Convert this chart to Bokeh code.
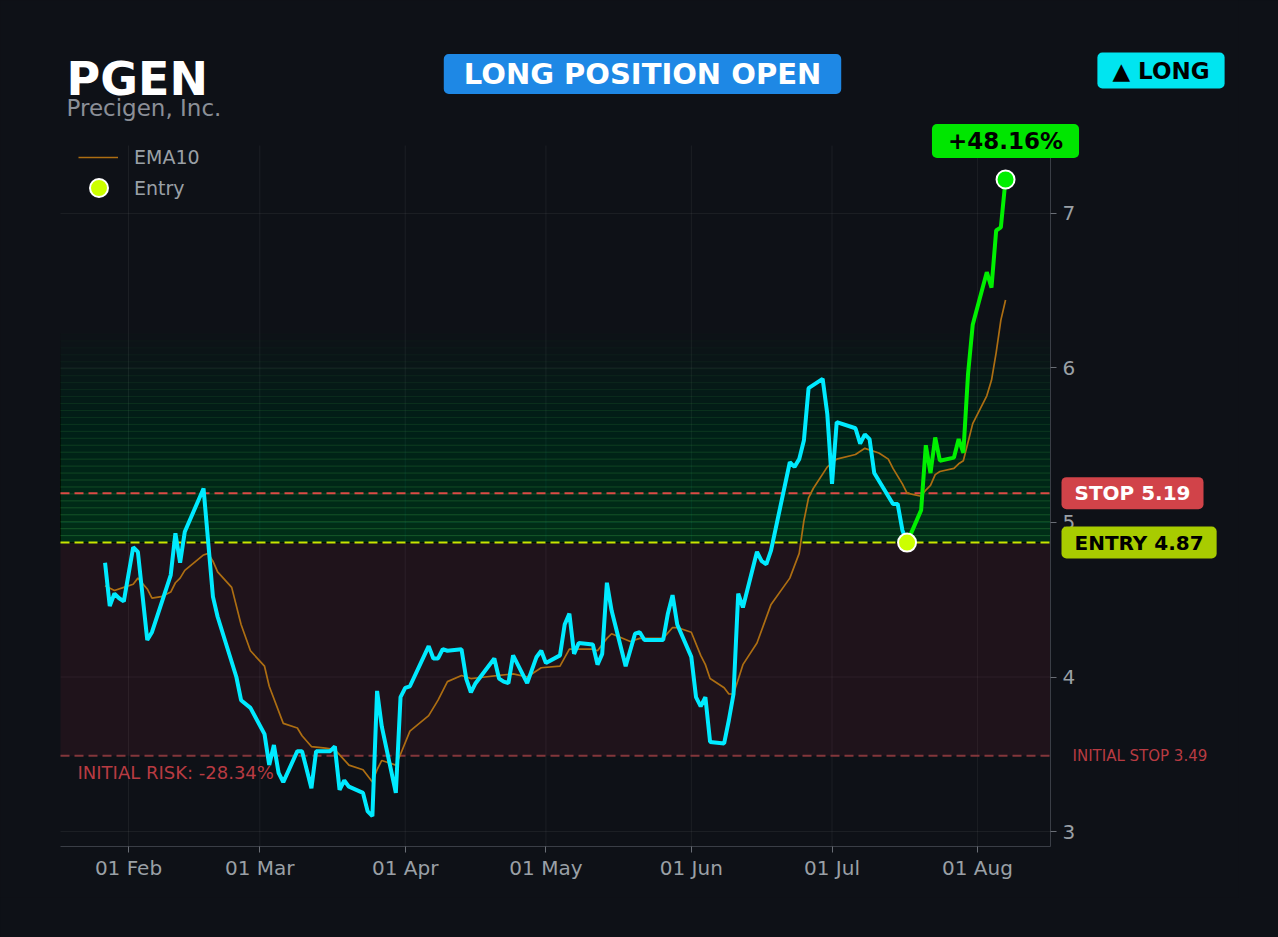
from datetime import datetime
import pandas as pd
from bokeh.plotting import figure
from bokeh.models import (Range1d, FixedTicker, DatetimeTickFormatter, Label,
                          Legend, LegendItem)
from bokeh.embed import file_html
from bokeh.resources import INLINE

# ---------------- data ----------------
symbol = "PGEN"
company = "Precigen, Inc."
status_text = "LONG POSITION OPEN"
side_text = "▲ LONG"
entry_price = 4.87
stop_price = 5.19
initial_stop = 3.49
gain_pct = 48.16
initial_risk_pct = -28.34
entry_date = "2025-07-17"

price_dates = [
    "2025-01-27", "2025-01-28", "2025-01-29", "2025-01-30", "2025-01-31",
    "2025-02-02", "2025-02-03", "2025-02-05", "2025-02-06", "2025-02-10",
    "2025-02-11", "2025-02-12", "2025-02-13", "2025-02-17", "2025-02-19",
    "2025-02-20", "2025-02-24", "2025-02-25", "2025-02-27", "2025-03-02",
    "2025-03-03", "2025-03-04", "2025-03-05", "2025-03-06", "2025-03-09",
    "2025-03-10", "2025-03-12", "2025-03-13", "2025-03-16", "2025-03-17",
    "2025-03-18", "2025-03-19", "2025-03-20", "2025-03-23", "2025-03-24",
    "2025-03-25", "2025-03-26", "2025-03-27", "2025-03-30", "2025-03-31",
    "2025-04-01", "2025-04-02", "2025-04-06", "2025-04-07", "2025-04-08",
    "2025-04-09", "2025-04-10", "2025-04-13", "2025-04-14", "2025-04-15",
    "2025-04-16", "2025-04-20", "2025-04-21", "2025-04-22", "2025-04-23",
    "2025-04-24", "2025-04-27", "2025-04-29", "2025-04-30", "2025-05-01",
    "2025-05-04", "2025-05-05", "2025-05-06", "2025-05-07", "2025-05-08",
    "2025-05-11", "2025-05-12", "2025-05-13", "2025-05-14", "2025-05-15",
    "2025-05-18", "2025-05-20", "2025-05-21", "2025-05-22", "2025-05-26",
    "2025-05-27", "2025-05-28", "2025-05-29", "2025-06-01", "2025-06-02",
    "2025-06-03", "2025-06-04", "2025-06-05", "2025-06-08", "2025-06-09",
    "2025-06-10", "2025-06-11", "2025-06-12", "2025-06-15", "2025-06-16",
    "2025-06-17", "2025-06-18", "2025-06-22", "2025-06-23", "2025-06-24",
    "2025-06-25", "2025-06-26", "2025-06-29", "2025-06-30", "2025-07-01",
    "2025-07-02", "2025-07-06", "2025-07-07", "2025-07-08", "2025-07-09",
    "2025-07-10", "2025-07-14", "2025-07-15", "2025-07-16", "2025-07-17",
    "2025-07-20", "2025-07-21", "2025-07-22", "2025-07-23", "2025-07-24",
    "2025-07-27", "2025-07-28", "2025-07-29", "2025-07-30", "2025-07-31",
    "2025-08-03", "2025-08-04", "2025-08-05", "2025-08-06", "2025-08-07",
]
price_values = [
    4.74, 4.46, 4.54, 4.51, 4.49,
    4.84, 4.81, 4.24, 4.29, 4.66,
    4.93, 4.74, 4.94, 5.22, 4.52,
    4.39, 4.00, 3.85, 3.80, 3.63,
    3.43, 3.56, 3.38, 3.32, 3.52,
    3.52, 3.28, 3.52, 3.52, 3.55,
    3.27, 3.33, 3.29, 3.25, 3.13,
    3.10, 3.91, 3.68, 3.25, 3.87,
    3.93, 3.94, 4.20, 4.12, 4.12,
    4.18, 4.17, 4.18, 3.99, 3.90,
    3.96, 4.12, 3.99, 3.97, 3.96,
    4.14, 3.96, 4.13, 4.17, 4.09,
    4.14, 4.34, 4.41, 4.15, 4.22,
    4.21, 4.08, 4.15, 4.61, 4.43,
    4.07, 4.28, 4.29, 4.24, 4.24,
    4.41, 4.53, 4.34, 4.13, 3.87,
    3.81, 3.87, 3.58, 3.57, 3.72,
    3.89, 4.54, 4.45, 4.81, 4.75,
    4.73, 4.82, 5.39, 5.36, 5.41,
    5.53, 5.87, 5.93, 5.70, 5.25,
    5.65, 5.61, 5.51, 5.57, 5.54,
    5.32, 5.12, 5.12, 4.95, 4.87,
    5.08, 5.50, 5.32, 5.55, 5.40,
    5.42, 5.54, 5.45, 5.96, 6.28,
    6.62, 6.52, 6.89, 6.91, 7.22,
]

ema_dates = [
    "2025-01-27", "2025-01-29", "2025-01-31", "2025-02-02", "2025-02-03",
    "2025-02-05", "2025-02-06", "2025-02-08", "2025-02-10", "2025-02-11",
    "2025-02-12", "2025-02-13", "2025-02-17", "2025-02-18", "2025-02-19",
    "2025-02-20", "2025-02-23", "2025-02-25", "2025-02-27", "2025-03-02",
    "2025-03-03", "2025-03-06", "2025-03-09", "2025-03-10", "2025-03-12",
    "2025-03-15", "2025-03-17", "2025-03-20", "2025-03-23", "2025-03-25",
    "2025-03-26", "2025-03-27", "2025-03-30", "2025-03-31", "2025-04-02",
    "2025-04-06", "2025-04-08", "2025-04-10", "2025-04-13", "2025-04-15",
    "2025-04-18", "2025-04-21", "2025-04-24", "2025-04-27", "2025-04-30",
    "2025-05-04", "2025-05-06", "2025-05-07", "2025-05-11", "2025-05-12",
    "2025-05-14", "2025-05-15", "2025-05-19", "2025-05-21", "2025-05-26",
    "2025-05-28", "2025-05-29", "2025-06-01", "2025-06-03", "2025-06-04",
    "2025-06-05", "2025-06-08", "2025-06-09", "2025-06-10", "2025-06-12",
    "2025-06-15", "2025-06-18", "2025-06-22", "2025-06-24", "2025-06-25",
    "2025-06-26", "2025-06-27", "2025-06-30", "2025-07-02", "2025-07-06",
    "2025-07-08", "2025-07-11", "2025-07-13", "2025-07-14", "2025-07-16",
    "2025-07-17", "2025-07-20", "2025-07-21", "2025-07-22", "2025-07-23",
    "2025-07-24", "2025-07-27", "2025-07-28", "2025-07-29", "2025-07-31",
    "2025-08-03", "2025-08-04", "2025-08-05", "2025-08-06", "2025-08-07",
]
ema_values = [
    4.59, 4.56, 4.58, 4.60, 4.64,
    4.57, 4.51, 4.52, 4.55, 4.61,
    4.64, 4.69, 4.79, 4.80, 4.75,
    4.68, 4.58, 4.34, 4.17, 4.07,
    3.94, 3.70, 3.67, 3.62, 3.55,
    3.54, 3.53, 3.43, 3.40, 3.32,
    3.40, 3.46, 3.43, 3.50, 3.65,
    3.75, 3.85, 3.97, 4.01, 3.99,
    4.00, 4.01, 4.02, 4.00, 4.06,
    4.07, 4.18, 4.18, 4.18, 4.17,
    4.25, 4.28, 4.23, 4.25, 4.25,
    4.32, 4.32, 4.29, 4.14, 4.08,
    3.99, 3.93, 3.89, 3.89, 4.08,
    4.22, 4.47, 4.64, 4.80, 5.01,
    5.16, 5.22, 5.36, 5.41, 5.44,
    5.48, 5.45, 5.41, 5.35, 5.25,
    5.19, 5.17, 5.21, 5.24, 5.31,
    5.33, 5.35, 5.38, 5.40, 5.64,
    5.82, 5.92, 6.10, 6.31, 6.44,
]

y_ticks = [3, 4, 5, 6, 7]
month_ticks = ["2025-02-01", "2025-03-01", "2025-04-01", "2025-05-01",
               "2025-06-01", "2025-07-01", "2025-08-01"]

# ---------------- layout / styles ----------------
BG = "#0e1117"
FONT = "DejaVu Sans"
AXIS_TXT = "#9aa0a6"

# visible data window
X0, X1 = datetime(2025, 1, 17, 12), datetime(2025, 8, 16, 14)
Y0, Y1 = 2.903, 7.44
# canvas geometry: the frame fills the canvas; the data window sits inside it
FW, FH = 1238, 897
DL, DR, DT, DB = 60, 1050, 145, 846

def ms(t):
    return pd.Timestamp(t).value / 1e6

span_x = X1 - X0
x_lo = X0 - span_x * (DL / (DR - DL))
x_hi = X1 + span_x * ((FW - DR) / (DR - DL))
upp = (Y1 - Y0) / (DB - DT)
y_lo = Y0 - (FH - DB) * upp
y_hi = Y1 + DT * upp

px = pd.to_datetime(price_dates)
ex = pd.to_datetime(ema_dates)
mt = pd.to_datetime(month_ticks)
entry_ts = pd.Timestamp(entry_date)
i_entry = list(px).index(entry_ts)

p = figure(
    frame_width=FW, frame_height=FH,
    min_border=0, min_border_left=0, min_border_top=0,
    min_border_right=1278 - FW, min_border_bottom=937 - FH,
    x_axis_type="datetime", y_axis_location="right",
    x_range=Range1d(x_lo, x_hi), y_range=Range1d(y_lo, y_hi),
    toolbar_location=None, output_backend="svg",
    background_fill_color=BG, border_fill_color=BG,
)
p.styles = {"background-color": BG}
p.outline_line_color = None
p.xgrid.visible = False
p.ygrid.visible = False

# axes pinned to the data window
p.xaxis.fixed_location = Y0
p.yaxis.fixed_location = ms(X1)
p.xaxis.bounds = (ms(X0), ms(X1))
p.yaxis.bounds = (Y0, Y1)
p.xaxis.ticker = FixedTicker(ticks=[ms(t) for t in month_ticks])
p.xaxis.formatter = DatetimeTickFormatter(days="%d %b", months="%d %b", years="%d %b",
                                          hours="%d %b", hourmin="%d %b")
p.yaxis.ticker = FixedTicker(ticks=y_ticks)
for ax in (p.xaxis[0], p.yaxis[0]):
    ax.axis_line_color = "#3a3e46"
    ax.major_tick_line_color = "#6a6e76"
    ax.minor_tick_line_color = None
    ax.major_tick_out = 6
    ax.major_tick_in = 0
    ax.major_label_text_color = AXIS_TXT
    ax.major_label_text_font = FONT
    ax.major_label_text_font_size = "20px"
    ax.major_label_standoff = 6
p.xaxis.major_label_standoff = 3

# grid inside the data window
p.segment(x0=mt, y0=[Y0] * len(mt), x1=mt, y1=[Y1] * len(mt),
          line_color="white", line_alpha=0.06, line_width=1)
p.segment(x0=[X0] * len(y_ticks), y0=y_ticks, x1=[X1] * len(y_ticks), y1=y_ticks,
          line_color="white", line_alpha=0.06, line_width=1)

# risk zone (initial stop -> entry)
p.quad(left=[X0], right=[X1], bottom=[initial_stop], top=[entry_price],
       fill_color="#d0304a", fill_alpha=0.09, line_color=None)
# profit gradient band above entry
n_band = 30
band_step = 0.045
tops = [entry_price + band_step * k for k in range(1, n_band + 1)]
p.quad(left=[X0] * n_band, right=[X1] * n_band, bottom=[entry_price] * n_band, top=tops,
       fill_color="#2ecc40", fill_alpha=0.006, line_color=None)
p.segment(x0=[X0] * n_band, y0=tops, x1=[X1] * n_band, y1=tops, line_color="#3fae4c",
          line_alpha=[0.32 * (1 - k / n_band) + 0.02 for k in range(n_band)], line_width=1)

# level lines
for lvl, col in ((initial_stop, "#83363b"), (stop_price, "#dc4b46"), (entry_price, "#c8e600")):
    p.segment(x0=[X0], y0=[lvl], x1=[X1], y1=[lvl], line_color=col,
              line_dash="9 5", line_width=2)

# series
ema_r = p.line(ex, ema_values, line_color="#ad6e12", line_width=1.7)
p.line(px[:i_entry + 1], price_values[:i_entry + 1], line_color="#00eaff", line_width=4)
p.line(px[i_entry:], price_values[i_entry:], line_color="#00f000", line_width=4)
entry_r = p.scatter([entry_ts], [entry_price], size=18, fill_color="#ccff00",
                    line_color="white", line_width=2)
p.scatter([px[-1]], [price_values[-1]], size=18, fill_color="#00ee00",
          line_color="white", line_width=2)

common_legend = dict(padding=0, margin=0, label_text_font=FONT, label_text_font_size="19px",
                     label_text_color=AXIS_TXT, background_fill_alpha=0, border_line_alpha=0)
p.add_layout(Legend(items=[LegendItem(label="EMA10", renderers=[ema_r])],
                    location=(78, FH - 168), glyph_width=40, glyph_height=20,
                    label_height=20, label_standoff=16, **common_legend))
p.add_layout(Legend(items=[LegendItem(label="Entry", renderers=[entry_r])],
                    location=(76, FH - 210), glyph_width=45, glyph_height=45,
                    label_height=20, label_standoff=13, **common_legend))

# ---------------- texts (screen px, origin = frame bottom-left) ----------------
def lab(**kw):
    base = dict(x_units="screen", y_units="screen", text_font=FONT)
    base.update(kw)
    p.add_layout(Label(**base))

lab(x=66, y=FH - 78, text=symbol, text_font_size="46px", text_font_style="bold",
    text_color="white", text_align="left", text_baseline="alphabetic")
lab(x=66, y=FH - 107, text=company, text_font_size="23px", text_color="#8b8f97",
    text_align="left", text_baseline="alphabetic")
lab(x=642, y=FH - 73.5, text=status_text, text_font_size="29px", text_font_style="bold",
    text_color="white", text_align="center", text_baseline="middle",
    background_fill_color="#1e88e5", padding=(20, 3), border_radius=5)
lab(x=1160.5, y=FH - 70, text=side_text, text_font_size="23px", text_font_style="bold",
    text_color="black", text_align="center", text_baseline="middle",
    background_fill_color="#00e5f0", padding=(15, 5), border_radius=5)
lab(x=1005, y=FH - 140.5, text=f"+{gain_pct:.2f}%", text_font_size="23px",
    text_font_style="bold", text_color="black", text_align="center", text_baseline="middle",
    background_fill_color="#00e600", padding=(16, 4), border_radius=5)
lab(x=1061, y=stop_price, y_units="data", text=f"STOP {stop_price:.2f}",
    text_font_size="20px", text_font_style="bold", text_color="white",
    text_align="left", text_baseline="middle",
    background_fill_color="#d14349", padding=(13, 4), border_radius=5)
lab(x=1061, y=entry_price, y_units="data", text=f"ENTRY {entry_price:.2f}",
    text_font_size="20px", text_font_style="bold", text_color="black",
    text_align="left", text_baseline="middle",
    background_fill_color="#a8cc00", padding=(13, 4), border_radius=5)
lab(x=1072, y=initial_stop, y_units="data", text=f"INITIAL STOP {initial_stop:.2f}",
    text_font_size="15px", text_color="#b83b42", text_align="left", text_baseline="middle")
lab(x=77, y=FH - 772, text=f"INITIAL RISK: {initial_risk_pct:.2f}%", text_font_size="18px",
    text_color="#b83b42", text_align="left", text_baseline="middle", level="underlay")

open("out.html", "w").write(file_html(p, INLINE))
